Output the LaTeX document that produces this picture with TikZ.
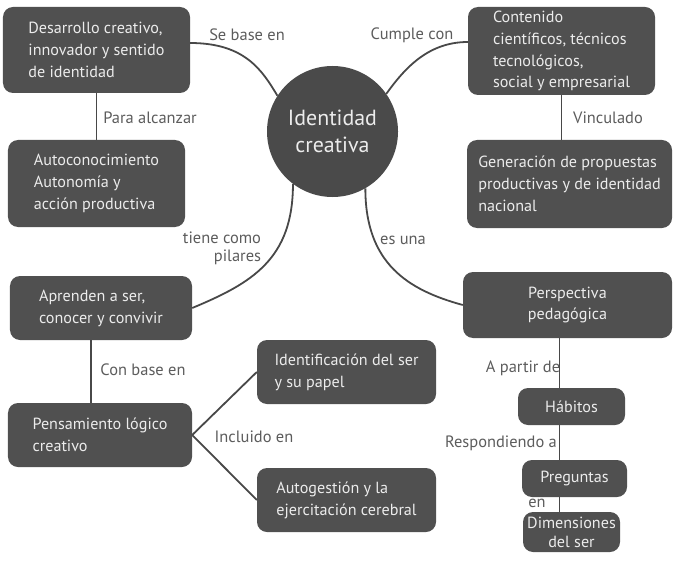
\documentclass[tikz,border=0pt]{standalone}
\usepackage{fontspec}
\setmainfont{PT Sans}
\definecolor{boxgray}{RGB}{80,80,80}
\definecolor{circlegray}{RGB}{74,74,74}
\definecolor{linegray}{RGB}{72,72,72}
\definecolor{labelgray}{RGB}{92,92,92}
\definecolor{textgray}{RGB}{236,236,236}
\tikzset{
  conceptbox/.style={
    fill=boxgray,
    rounded corners=10bp,
    text=textgray,
    align=left,
    inner sep=0pt,
    font=\fontsize{16.2}{22}\selectfont,
  },
  centerbox/.style={
    conceptbox,
    align=center,
  },
  linktext/.style={
    text=labelgray,
    inner sep=1pt,
    font=\fontsize{16.5}{18}\selectfont,
  },
  link/.style={
    draw=linegray,
    line width=1.8bp,
  }
}
\newcommand{\concept}[6][conceptbox]{%
  \node[#1, minimum width=#4bp, minimum height=#5bp] (#2) at (#3) {#6};
}
\newcommand{\linklabel}[4][]{%
  \node[linktext, #1] (#2) at (#3) {#4};
}

\begin{document}
\begin{tikzpicture}[x=1bp, y=-1bp]
\useasboundingbox (0,0) rectangle (673,563);

\node[circle, fill=circlegray, minimum size=131bp, text=textgray,
  align=center, font=\fontsize{22}{27}\selectfont] (idc) at (332.5,131.5)
  {Identidad\\creativa};

% left column
\concept{des}{96.5,50}{187}{86}{Desarrollo creativo,\\innovador y sentido\\de identidad}
\concept{auto}{96.5,183.5}{177}{87}{Autoconocimiento\\Autonomía y\\acción productiva}
\concept{apr}{101,308}{182}{64}{Aprenden a ser,\\conocer y convivir}
\concept{pens}{100,435}{184}{64}{Pensamiento lógico\\creativo}
\concept{iden}{346.5,372}{179}{64}{Identificación del ser\\y su papel}
\concept{autog}{346.5,500}{179}{64}{Autogestión y la\\ejercitación cerebral}

% right column
\concept{cont}{561.5,51}{187}{88}{Contenido\\científicos, técnicos\\tecnológicos,\\social y empresarial}
\concept{gen}{569.5,184}{205}{88}{Generación de propuestas\\productivas y de identidad\\nacional}
\concept[centerbox]{persp}{567.5,305}{209}{66}{Perspectiva\\pedagógica}
\concept[centerbox]{hab}{571.5,406.5}{107}{37}{Hábitos}
\concept[centerbox]{preg}{574.5,478.5}{105}{37}{Preguntas}
\concept[centerbox, font=\fontsize{16.2}{19}\selectfont]{dim}{571.5,532}{97}{40}{Dimensiones\\del ser}

% connectors
\draw[link] ([yshift=7bp]des.east) .. controls +(55,0) and +(-15,-25) .. (idc.147);
\draw[link] (idc.35) .. controls +(18,-25) and +(-40,0) .. ([yshift=9bp]cont.west);
\draw[link] (idc.233) .. controls +(0,75) and +(60,-25) .. (apr.east);
\draw[link] (idc.300) .. controls +(0,75) and +(-55,-15) .. (persp.west);
\draw[link] (des.south) -- (auto.north);
\draw[link] (cont.south) -- (cont.south |- gen.north);
\draw[link] ([xshift=-10bp]apr.south) -- ([xshift=-10bp]apr.south |- pens.north);
\draw[link] (pens.east) -- (iden.west);
\draw[link] (pens.east) -- (autog.west);
\draw[link] ([xshift=-8bp]persp.south) -- ([xshift=-8bp]persp.south |- hab.north);
\draw[link] ([xshift=-8bp]persp.south |- hab.south) -- ([xshift=-8bp]persp.south |- preg.north);
\draw[link] ([xshift=-8bp]persp.south |- preg.south) -- ([xshift=-8bp]persp.south |- dim.north);

% labels
\linklabel{lbase}{247,35}{Se base en}
\linklabel{lalc}{150,118}{Para alcanzar}
\linklabel[align=right]{lpil}{222,248}{tiene como\\pilares}
\linklabel{lcum}{412,35}{Cumple con}
\linklabel{lvin}{608,118}{Vinculado}
\linklabel{lesu}{403,240}{es una}
\linklabel{lcon}{143,370}{Con base en}
\linklabel{linc}{254,437}{Incluido en}
\linklabel{lpar}{523,368}{A partir de}
\linklabel{lres}{501,443}{Respondiendo a}
\linklabel{len}{537,503}{en}

\end{tikzpicture}
\end{document}
